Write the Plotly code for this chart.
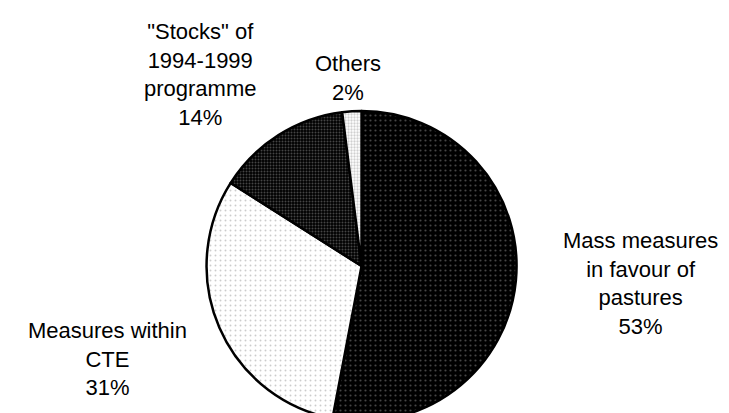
import plotly.graph_objects as go

labels = ["Mass measures<br>in favour of<br>pastures",
          "Measures within<br>CTE",
          "\"Stocks\" of<br>1994-1999<br>programme",
          "Others"]
shares = [53, 31, 14, 2]

# where each label block sits (paper coords)
label_x = [0.867, 0.137, 0.263, 0.466]
label_y = [0.334, 0.150, 0.840, 0.831]

bg_colors = ["#000000", "#ffffff", "#000000", "#ffffff"]
fg_colors = ["#8a8a8a", "#9a9a9a", "#8a8a8a", "#a0a0a0"]
pattern_sizes = [5, 5, 3, 3]
pattern_solidity = [0.15, 0.12, 0.35, 0.45]

fig = go.Figure(go.Pie(
    labels=labels,
    values=shares,
    sort=False,
    direction="clockwise",
    rotation=0,
    textinfo="none",
    hoverinfo="label+percent",
    marker=dict(
        colors=bg_colors,
        line=dict(color="#000000", width=2.5),
        pattern=dict(shape=".", fillmode="overlay", bgcolor=bg_colors,
                     fgcolor=fg_colors, size=pattern_sizes, solidity=pattern_solidity),
    ),
    domain=dict(x=[0.19, 0.78], y=[0.0, 0.7506]),
    showlegend=False,
))

for lab, val, x, y in zip(labels, shares, label_x, label_y):
    fig.add_annotation(
        text=f"{lab}<br>{val}%",
        x=x, y=y, xref="paper", yref="paper",
        xanchor="center", yanchor="middle", align="center",
        showarrow=False,
        font=dict(family="Liberation Sans, Arial, sans-serif", size=22, color="#000000"),
    )

fig.update_layout(
    width=729, height=413,
    margin=dict(l=0, r=0, t=0, b=0),
    paper_bgcolor="white",
    plot_bgcolor="white",
)

fig.write_html("out.html")
